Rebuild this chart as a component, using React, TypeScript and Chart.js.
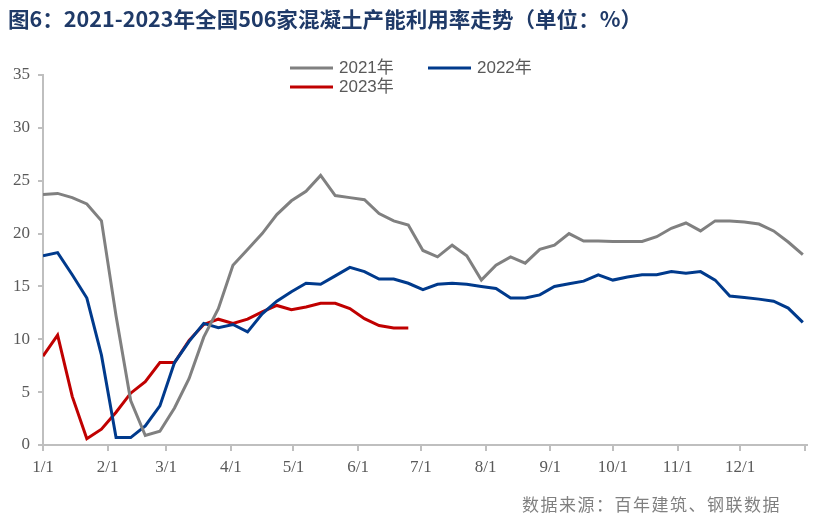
import React, { useEffect, useRef } from "react";
import { Chart, registerables } from "chart.js";

Chart.register(...registerables);

// ---- data ----
const titleText = "图6：2021-2023年全国506家混凝土产能利用率走势（单位：%）";
const sourceText = "数据来源：百年建筑、钢联数据";
const seriesNames = ["2021年", "2022年", "2023年"];
const seriesColors = ["#808080", "#003A8C", "#C00000"];

// weekly observations starting 1/1 (day offset = week index * 7)
const values2021 = [
  23.7, 23.8, 23.4, 22.8, 21.2, 12.2, 4.2, 0.9, 1.3, 3.5, 6.3, 10.2, 12.9, 17.0,
  18.5, 20.0, 21.8, 23.1, 24.0, 25.5, 23.6, 23.4, 23.2, 21.9, 21.2, 20.8, 18.4,
  17.8, 18.9, 17.9, 15.6, 17.0, 17.8, 17.2, 18.5, 18.9, 20.0, 19.3, 19.3, 19.25,
  19.25, 19.25, 19.7, 20.5, 21.0, 20.25, 21.2, 21.2, 21.1, 20.9, 20.25, 19.2, 18.0,
];
const values2022 = [
  17.9, 18.2, 16.1, 13.9, 8.5, 0.7, 0.7, 1.8, 3.7, 7.8, 9.8, 11.5, 11.1, 11.4,
  10.7, 12.4, 13.6, 14.5, 15.3, 15.2, 16.0, 16.8, 16.4, 15.7, 15.7, 15.3, 14.7,
  15.2, 15.3, 15.2, 15.0, 14.8, 13.9, 13.9, 14.2, 15.0, 15.25, 15.5, 16.1, 15.6,
  15.9, 16.1, 16.1, 16.4, 16.25, 16.4, 15.6, 14.1, 13.96, 13.8, 13.6, 12.95, 11.6,
];
const values2023 = [
  8.4, 10.4, 4.6, 0.6, 1.5, 3.1, 4.9, 6.0, 7.8, 7.8, 9.9, 11.4, 11.9, 11.5, 11.9,
  12.6, 13.2, 12.8, 13.05, 13.4, 13.4, 12.9, 11.95, 11.3, 11.07, 11.07,
];

// x-axis ticks: day of year of each month start
const monthStartDays = [0, 31, 59, 90, 120, 151, 181, 212, 243, 273, 304, 334, 365];
const monthLabels = ["1/1", "2/1", "3/1", "4/1", "5/1", "6/1", "7/1", "8/1", "9/1", "10/1", "11/1", "12/1", ""];
const yTicks = [0, 5, 10, 15, 20, 25, 30, 35];

const toPoints = (vals: number[]) => vals.map((v, i) => ({ x: i * 7, y: v }));

const axisFont = { family: '"Liberation Serif", "Times New Roman", serif', size: 17 };

const overlayPlugin = {
  id: "overlay",
  afterDraw(chart: any) {
    const ctx = chart.ctx as CanvasRenderingContext2D;
    ctx.save();
    // title
    ctx.font = 'bold 21px "Noto Sans CJK SC", sans-serif';
    ctx.fillStyle = "#1F3A68";
    ctx.textBaseline = "middle";
    ctx.textAlign = "left";
    const tw = ctx.measureText(titleText).width;
    const sx = 634 / tw;
    ctx.save();
    ctx.translate(8, 19);
    ctx.scale(sx, 1);
    ctx.fillText(titleText, 0, 0);
    ctx.restore();

    // legend
    const items = [
      { x: 290, y: 68, i: 0 },
      { x: 428, y: 68, i: 1 },
      { x: 290, y: 87, i: 2 },
    ];
    ctx.font = '17px "Liberation Sans", "Noto Sans CJK SC", sans-serif';
    items.forEach((it) => {
      const ds = chart.data.datasets[it.i];
      ctx.strokeStyle = ds.borderColor;
      ctx.lineWidth = 3;
      ctx.beginPath();
      ctx.moveTo(it.x, it.y);
      ctx.lineTo(it.x + 43, it.y);
      ctx.stroke();
      ctx.fillStyle = "#595959";
      ctx.fillText(ds.label, it.x + 49, it.y);
    });

    // source
    ctx.font = '17px "Noto Sans CJK SC", sans-serif';
    ctx.fillStyle = "#808080";
    (ctx as any).letterSpacing = "1.5px";
    ctx.fillText(sourceText, 522, 505);
    ctx.restore();
  },
};

export default function App() {
  const ref = useRef<HTMLCanvasElement>(null);
  useEffect(() => {
    document.body.style.margin = "0";
    const values = [values2021, values2022, values2023];
    const chart = new Chart(ref.current as HTMLCanvasElement, {
      type: "line",
      data: {
        datasets: values.map((v, i) => ({
          label: seriesNames[i],
          data: toPoints(v),
          borderColor: seriesColors[i],
          backgroundColor: seriesColors[i],
          borderWidth: 3,
          pointRadius: 0,
          tension: 0,
          fill: false,
        })),
      },
      options: {
        responsive: false,
        animation: false,
        layout: { padding: { top: 75, right: 18, left: 0, bottom: 0 } },
        plugins: { legend: { display: false }, tooltip: { enabled: false }, title: { display: false } },
        scales: {
          x: {
            type: "linear",
            min: 0,
            max: 366,
            afterBuildTicks: (s: any) => {
              s.ticks = monthStartDays.map((d) => ({ value: d }));
            },
            afterFit: (s: any) => {
              s.height = 87;
            },
            ticks: {
              autoSkip: false,
              maxRotation: 0,
              minRotation: 0,
              padding: 6,
              color: "#595959",
              font: axisFont,
              callback: (v: any) => {
                const k = monthStartDays.indexOf(Number(v));
                return k >= 0 ? monthLabels[k] : "";
              },
            },
            grid: { drawOnChartArea: false, drawTicks: true, tickLength: 6, color: "#BFBFBF", lineWidth: 2 },
            border: { color: "#BFBFBF", width: 2 },
          },
          y: {
            min: 0,
            max: 35,
            afterBuildTicks: (s: any) => {
              s.ticks = yTicks.map((v) => ({ value: v }));
            },
            afterFit: (s: any) => {
              s.width = 43;
            },
            ticks: { padding: 8, color: "#595959", font: axisFont },
            grid: { drawOnChartArea: false, drawTicks: true, tickLength: 5, color: "#BFBFBF", lineWidth: 2 },
            border: { color: "#BFBFBF", width: 2 },
          },
        },
      },
      plugins: [overlayPlugin],
    } as any);
    return () => chart.destroy();
  }, []);
  return (
    <div style={{ width: 825, height: 532 }}>
      <canvas ref={ref} width={825} height={532} style={{ display: "block" }} />
    </div>
  );
}
